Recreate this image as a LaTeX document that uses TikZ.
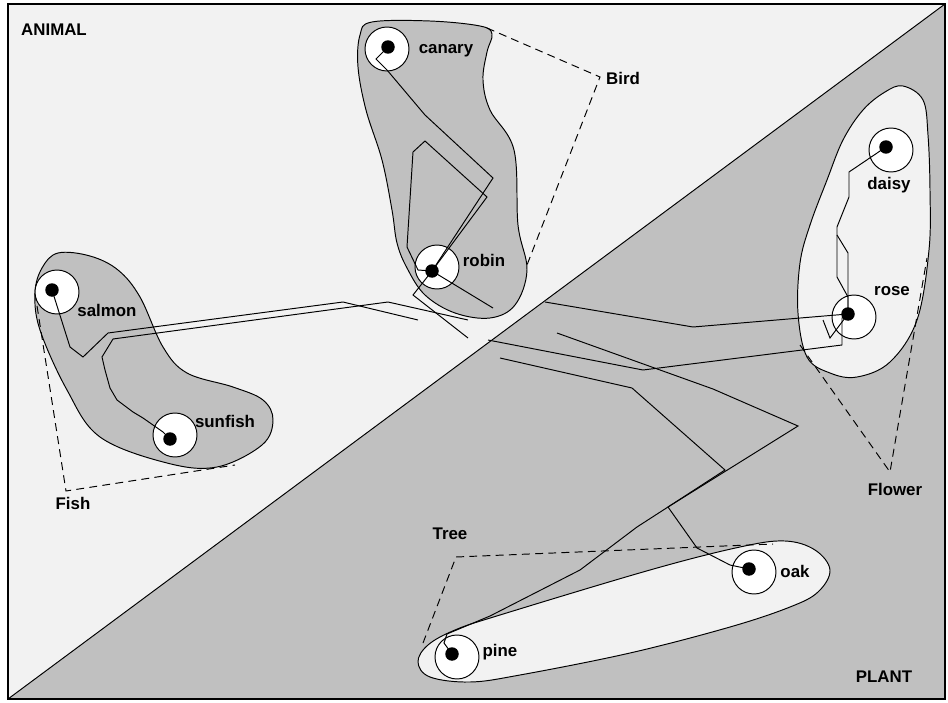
\documentclass[tikz,border=0pt]{standalone}
\usepackage{fontspec}
\setmainfont{Liberation Sans}
\usetikzlibrary{calc}

\definecolor{lightarea}{HTML}{F2F2F2}
\definecolor{darkarea}{HTML}{C0C0C0}

\begin{document}
\begin{tikzpicture}[x=0.02cm, y=-0.02cm, line width=0.55pt,
    lbl/.style={font=\fontsize{9.6}{11}\selectfont\bfseries, inner sep=0pt, anchor=base},
    item/.style={circle, draw, fill=white, minimum size=0.88cm, inner sep=0pt},
    dot/.style={circle, fill=black, minimum size=0.27cm, inner sep=0pt},
    blob/.style={draw, smooth cycle, tension=0.6},
    concept/.style={dash pattern=on 4.5pt off 3pt}]
        \useasboundingbox (0,0) rectangle (948,703);

        % the two halves
        \fill[lightarea] (8,4) -- (945,4) -- (8,699) -- cycle;
        \fill[darkarea] (945,4) -- (945,699) -- (8,699) -- cycle;
        \draw (945,4) -- (8,699);

        % clusters
        \draw[fill=darkarea] plot[blob] coordinates {(372,22) (430,21) (480,26) (492,34) (487,52) (483,80) (490,110) (514,150) (518,225) (527,270) (515,305) (490,318) (455,313) (425,295) (407,268) (397,243) (392,210) (382,160) (366,110) (358,67) (360,35)};
        \draw[fill=darkarea] plot[blob] coordinates {(58,253) (90,256) (118,270) (140,297) (163,347) (187,373) (233,387) (263,400) (273,420) (262,445) (217,467) (167,463) (100,437) (67,390) (40,330) (35,293) (42,268)};
        \draw[fill=lightarea] plot[blob] coordinates {(903,86) (923,100) (928,135) (930,190) (929,250) (917,320) (890,362) (857,377) (830,373) (807,357) (798,313) (800,263) (810,225) (827,180) (843,140) (863,110) (885,92)};
        \draw[fill=lightarea] plot[blob] coordinates {(418,662) (428,645) (455,630) (500,615) (650,570) (740,547) (785,541) (815,550) (830,570) (818,592) (790,607) (730,627) (630,653) (520,675) (470,682) (430,677)};

        % concepts
        \coordinate (birdA) at (487,28);
        \coordinate (birdB) at (527,265);
        \coordinate (fishA) at (35,293);
        \coordinate (fishB) at (235,465);
        \coordinate (flowerA) at (800,345);
        \coordinate (flowerB) at (927,258);
        \coordinate (treeA) at (423,643);
        \coordinate (treeB) at (773,544);
        \draw[concept] (birdA) -- (600,77) -- (birdB);
        \draw[concept] (fishA) -- (66,491) -- (fishB);
        \draw[concept] (flowerA) -- (890,472) -- (flowerB);
        \draw[concept] (treeA) -- (456,557) -- (treeB);

        % items
        \node[item] (canary) at (387,49) {};
        \node[item] (robin) at (437,267) {};
        \node[item] (salmon) at (57,292) {};
        \node[item] (sunfish) at (175,435) {};
        \node[item] (daisy) at (891,150) {};
        \node[item] (rose) at (854,317) {};
        \node[item] (pine) at (457,657) {};
        \node[item] (oak) at (754,572) {};

        \node[dot] (canaryDot) at (388,47) {};
        \node[dot] (robinDot) at (432,271) {};
        \node[dot] (salmonDot) at (52,290) {};
        \node[dot] (sunfishDot) at (170,439) {};
        \node[dot] (daisyDot) at (886,147) {};
        \node[dot] (roseDot) at (848,314) {};
        \node[dot] (pineDot) at (452,654) {};
        \node[dot] (oakDot) at (749,569) {};

        % free ends
        \coordinate (robinEndA) at (493,308);
        \coordinate (robinEndB) at (468,338);
        \coordinate (salmonEnd) at (418,320);
        \coordinate (sunfishEnd) at (468,320);
        \coordinate (roseStartA) at (545,302);
        \coordinate (roseStartB) at (488,340);
        \coordinate (roseEnd) at (823,320);
        \coordinate (roseFork) at (837,235);
        \coordinate (oakStart) at (500,358);
        \coordinate (pineStart) at (557,333);

        % paths
        \draw (canaryDot.center) -- (376,59) -- (387,70) -- (425,115) -- (493,178) -- (robinDot.center);
        \draw (robinDot.center) -- (418,270) -- (407,247) -- (413,152) -- (425,141) -- (487,197) -- (robinDot.center);
        \draw (robinDot.center) -- (robinEndA);
        \draw (robinDot.center) -- (413,295) -- (robinEndB);
        \draw (salmonDot.center) -- (70,347) -- (83,357) -- (108,333) -- (343,302) -- (salmonEnd);
        \draw (sunfishDot.center) -- (163,432) -- (143,418) -- (133,412) -- (117,400) -- (110,388) -- (105,370) -- (102,357) -- (113,339) -- (388,302) -- (sunfishEnd);
        \draw (roseStartA) -- (693,327) -- (roseDot.center);
        \draw (roseStartB) -- (643,370) -- (842,345) -- (842,318) -- (roseDot.center);
        \draw (roseDot.center) -- (830,338) -- (roseEnd);
        \draw (daisyDot.center) -- (849,172) -- (849,197) -- (837,227) -- (837,277) -- (848,297) -- (roseDot.center);
        \draw (roseDot.center) -- (848,253) -- (roseFork);
        \draw (oakStart) -- (632,388) -- (725,470) -- (668,507) -- (697,548) -- (730,565) -- (oakDot.center);
        \draw (pineStart) -- (713,389) -- (798,426) -- (668,507) -- (637,527) -- (580,570) -- (490,616) -- (447,634) -- (444,643) -- (pineDot.center);

        % labels
        \node[lbl] (animal) at (54,35) {ANIMAL};
        \node[lbl] (plant) at (884,682) {PLANT};
        \node[lbl] (canaryL) at (446,53) {canary};
        \node[lbl] (robinL) at (484,266) {robin};
        \node[lbl] (salmonL) at (107,316) {salmon};
        \node[lbl] (sunfishL) at (225,427) {sunfish};
        \node[lbl] (daisyL) at (889,189) {daisy};
        \node[lbl] (roseL) at (892,295) {rose};
        \node[lbl] (pineL) at (500,656) {pine};
        \node[lbl] (oakL) at (795,577) {oak};
        \node[lbl] (bird) at (623,84) {Bird};
        \node[lbl] (fish) at (73,509) {Fish};
        \node[lbl] (flower) at (895,495) {Flower};
        \node[lbl] (tree) at (450,539) {Tree};

        \draw[line width=1pt] (8,4) rectangle (945,699);
      \end{tikzpicture}
\end{document}
